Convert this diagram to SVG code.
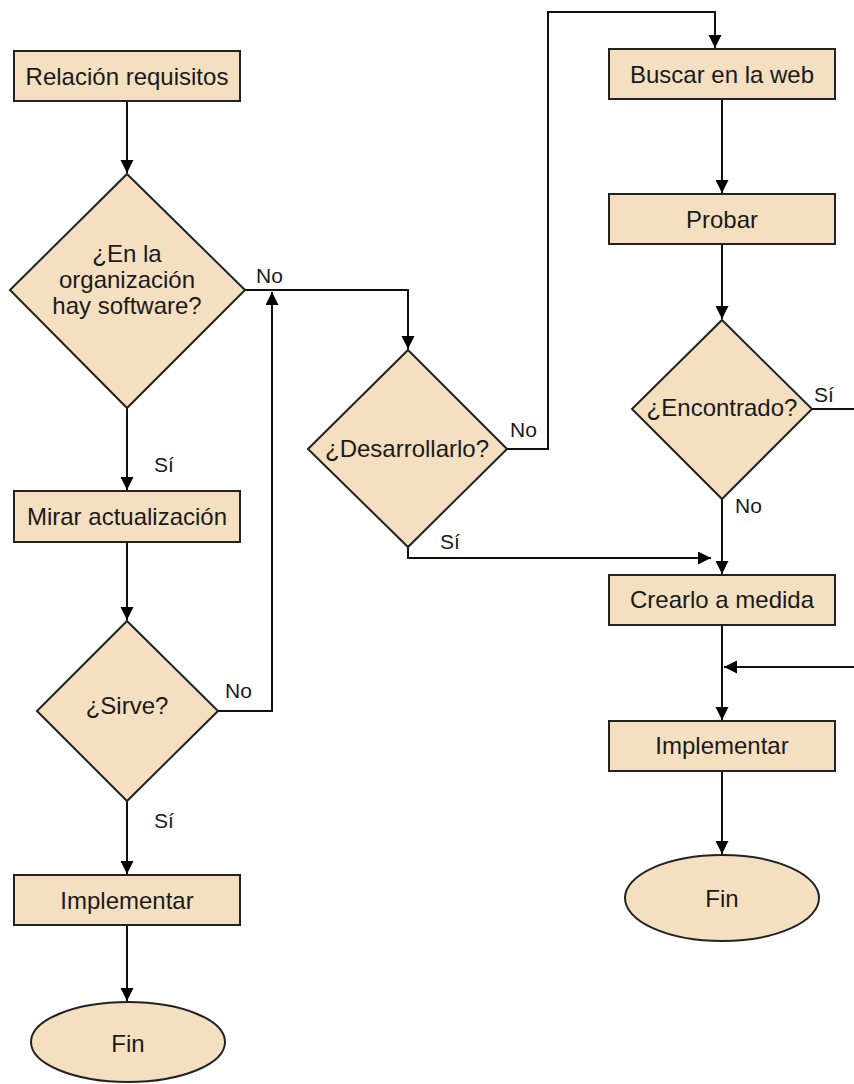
<svg xmlns="http://www.w3.org/2000/svg" width="854" height="1084" viewBox="0 0 854 1084">
  <style>
    .shape { fill: #F4E0C0; stroke: #222; stroke-width: 2; }
    .label { font-family: "Liberation Sans", Arial, sans-serif; font-size: 24px; fill: #1a1a1a; text-anchor: middle; }
    .tag { font-family: "Liberation Sans", Arial, sans-serif; font-size: 21px; fill: #1a1a1a; }
    .edge { fill: none; stroke: #111; stroke-width: 2; marker-end: url(#arrow); }
    .edge-plain { fill: none; stroke: #111; stroke-width: 2; }
  </style>
  <defs>
    <marker id="arrow" markerUnits="userSpaceOnUse" markerWidth="14" markerHeight="14" refX="13" refY="6.5" orient="auto">
      <path d="M0,0 L13,6.5 L0,13 z" fill="#000"/>
    </marker>
  </defs>
  <rect width="854" height="1084" fill="#fff"/>

  <g id="connectors">
    <path class="edge" d="M127,101 V173"/>
    <path class="edge" d="M127,408 V490"/>
    <path class="edge" d="M127,542 V620"/>
    <path class="edge" d="M127,801 V874"/>
    <path class="edge" d="M127,925 V1001"/>
    <path class="edge" d="M245,290 H408 V349"/>
    <path class="edge" d="M218,711 H272 V292"/>
    <path class="edge" d="M507,449 H548 V12 H715 V48"/>
    <path class="edge" d="M722,99 V193"/>
    <path class="edge" d="M722,244 V319"/>
    <path class="edge-plain" d="M812,409 H854"/>
    <path class="edge" d="M722,499 V574"/>
    <path class="edge" d="M408,547 V558 H711"/>
    <path class="edge" d="M722,625 V720"/>
    <path class="edge" d="M854,667 H724"/>
    <path class="edge" d="M722,771 V854"/>
  </g>

  <g id="relacion-requisitos">
    <rect class="shape" x="14" y="51" width="226" height="50"/>
    <text class="label" x="127" y="85">Relación requisitos</text>
  </g>

  <g id="hay-software">
    <polygon class="shape" points="127,174 245,290 127,408 10,290"/>
    <text class="label" x="127" y="262">¿En la</text>
    <text class="label" x="127" y="288">organización</text>
    <text class="label" x="127" y="314">hay software?</text>
  </g>

  <g id="mirar-actualizacion">
    <rect class="shape" x="14" y="491" width="226" height="51"/>
    <text class="label" x="127" y="525">Mirar actualización</text>
  </g>

  <g id="sirve">
    <polygon class="shape" points="127,621 218,711 127,801 37,711"/>
    <text class="label" x="127" y="714">¿Sirve?</text>
  </g>

  <g id="implementar-izq">
    <rect class="shape" x="14" y="875" width="226" height="50"/>
    <text class="label" x="127" y="909">Implementar</text>
  </g>

  <g id="fin-izq">
    <ellipse class="shape" cx="128" cy="1042" rx="97" ry="40"/>
    <text class="label" x="128" y="1052">Fin</text>
  </g>

  <g id="desarrollarlo">
    <polygon class="shape" points="408,350 507,449 408,547 308,449"/>
    <text class="label" x="407" y="457">¿Desarrollarlo?</text>
  </g>

  <g id="buscar-web">
    <rect class="shape" x="609" y="49" width="226" height="50"/>
    <text class="label" x="722" y="83">Buscar en la web</text>
  </g>

  <g id="probar">
    <rect class="shape" x="609" y="194" width="226" height="50"/>
    <text class="label" x="722" y="228">Probar</text>
  </g>

  <g id="encontrado">
    <polygon class="shape" points="722,320 812,409 722,499 632,409"/>
    <text class="label" x="722" y="416">¿Encontrado?</text>
  </g>

  <g id="crearlo">
    <rect class="shape" x="609" y="575" width="226" height="50"/>
    <text class="label" x="722" y="608">Crearlo a medida</text>
  </g>

  <g id="implementar-der">
    <rect class="shape" x="609" y="721" width="226" height="50"/>
    <text class="label" x="722" y="754">Implementar</text>
  </g>

  <g id="fin-der">
    <ellipse class="shape" cx="722" cy="898" rx="97" ry="43"/>
    <text class="label" x="722" y="907">Fin</text>
  </g>

  <g id="etiquetas">
    <text class="tag" x="256" y="283">No</text>
    <text class="tag" x="154" y="472">Sí</text>
    <text class="tag" x="225" y="698">No</text>
    <text class="tag" x="154" y="828">Sí</text>
    <text class="tag" x="510" y="437">No</text>
    <text class="tag" x="440" y="549">Sí</text>
    <text class="tag" x="814" y="402">Sí</text>
    <text class="tag" x="735" y="513">No</text>
  </g>
</svg>
